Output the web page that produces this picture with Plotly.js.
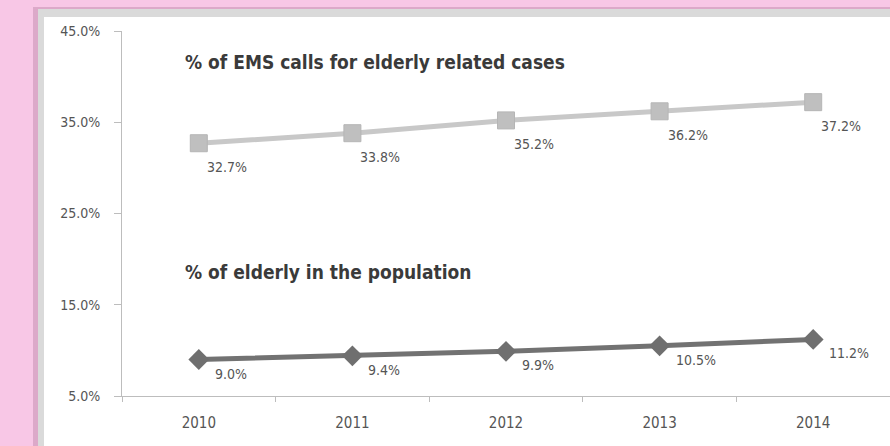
<!DOCTYPE html>
<html><head><meta charset="utf-8">
<script src="https://cdn.plot.ly/plotly-3.0.1.min.js"></script>
<style>
html,body{margin:0;padding:0;width:890px;height:446px;overflow:hidden;background:#f8c7e6;}
#frame1{position:absolute;left:33px;top:7px;width:857px;height:439px;background:#dca9c9;}
#frame2{position:absolute;left:38px;top:9px;width:852px;height:437px;background:#dadada;}
#chart{position:absolute;left:44px;top:17px;width:846px;height:429px;background:#fff;}
</style></head>
<body>
<div id="frame1"></div><div id="frame2"></div>
<div id="chart"></div>
<script>
const years = ['2010','2011','2012','2013','2014'];
const emsCalls = [32.7, 33.8, 35.2, 36.2, 37.2];
const elderlyPop = [9.0, 9.4, 9.9, 10.5, 11.2];
const yTicks = [5, 15, 25, 35, 45];
const yTickLabels = ['5.0%', '15.0%', '25.0%', '35.0%', '45.0%'];
const emsTitle = '% of EMS calls for elderly related cases';
const popTitle = '% of elderly in the population';

const narrow = '"DejaVu Sans Condensed", "Liberation Sans Narrow", sans-serif';
const fmt = v => v.toFixed(1) + '%';

const traces = [
  {x: years, y: emsCalls, type: 'scatter', mode: 'lines+markers',
   line: {color: '#c8c8c8', width: 5},
   marker: {symbol: 'square', size: 17, color: '#bfbfbf', line: {color: '#b5b5b5', width: 1}},
   hoverinfo: 'skip'},
  {x: years, y: elderlyPop, type: 'scatter', mode: 'lines+markers',
   line: {color: '#727272', width: 5},
   marker: {symbol: 'diamond', size: 16, color: '#6f6f6f'},
   hoverinfo: 'skip'}
];

function labels(vals, dx, dy) {
  return years.map((yr, i) => ({
    x: i, y: vals[i], xref: 'x', yref: 'y', text: fmt(vals[i]), showarrow: false,
    xanchor: 'left', yanchor: 'middle', xshift: dx, yshift: dy,
    font: {family: narrow, size: 14, color: '#555'}
  }));
}

const layout = {
  width: 846, height: 429,
  margin: {l: 78, r: 0, t: 14, b: 50},
  paper_bgcolor: '#ffffff', plot_bgcolor: '#ffffff',
  showlegend: false,
  font: {family: narrow, size: 12, color: '#555'},
  xaxis: {type: 'category', range: [-0.5, 4.5], showgrid: false, zeroline: false,
    showline: true, linecolor: '#bdbdbd', linewidth: 1,
    ticks: 'outside', tickson: 'boundaries', ticklen: 5, tickcolor: '#bdbdbd',
    ticklabelstandoff: 13,
    tickfont: {family: narrow, size: 15, color: '#555'}},
  yaxis: {range: [5, 45], tickvals: yTicks, ticktext: yTickLabels,
    showgrid: false, zeroline: false, showline: true, linecolor: '#bdbdbd', linewidth: 1,
    ticks: 'outside', ticklen: 7, tickcolor: '#bdbdbd',
    ticklabelstandoff: 11,
    tickfont: {family: narrow, size: 14, color: '#555'}},
  annotations: [
    {text: '<b>' + emsTitle + '</b>', xref: 'paper', yref: 'paper', x: 0.08, y: 0.915,
     xanchor: 'left', yanchor: 'middle', showarrow: false,
     font: {family: '"DejaVu Sans Condensed", sans-serif', size: 19, color: '#3a3a3a'}},
    {text: '<b>' + popTitle + '</b>', xref: 'paper', yref: 'paper', x: 0.08, y: 0.34,
     xanchor: 'left', yanchor: 'middle', showarrow: false,
     font: {family: '"DejaVu Sans Condensed", sans-serif', size: 19, color: '#3a3a3a'}}
  ].concat(labels(emsCalls, 6, -24), labels(elderlyPop, 14, -14))
};

Plotly.newPlot('chart', traces, layout, {displayModeBar: false, staticPlot: true});
</script>
</body></html>
